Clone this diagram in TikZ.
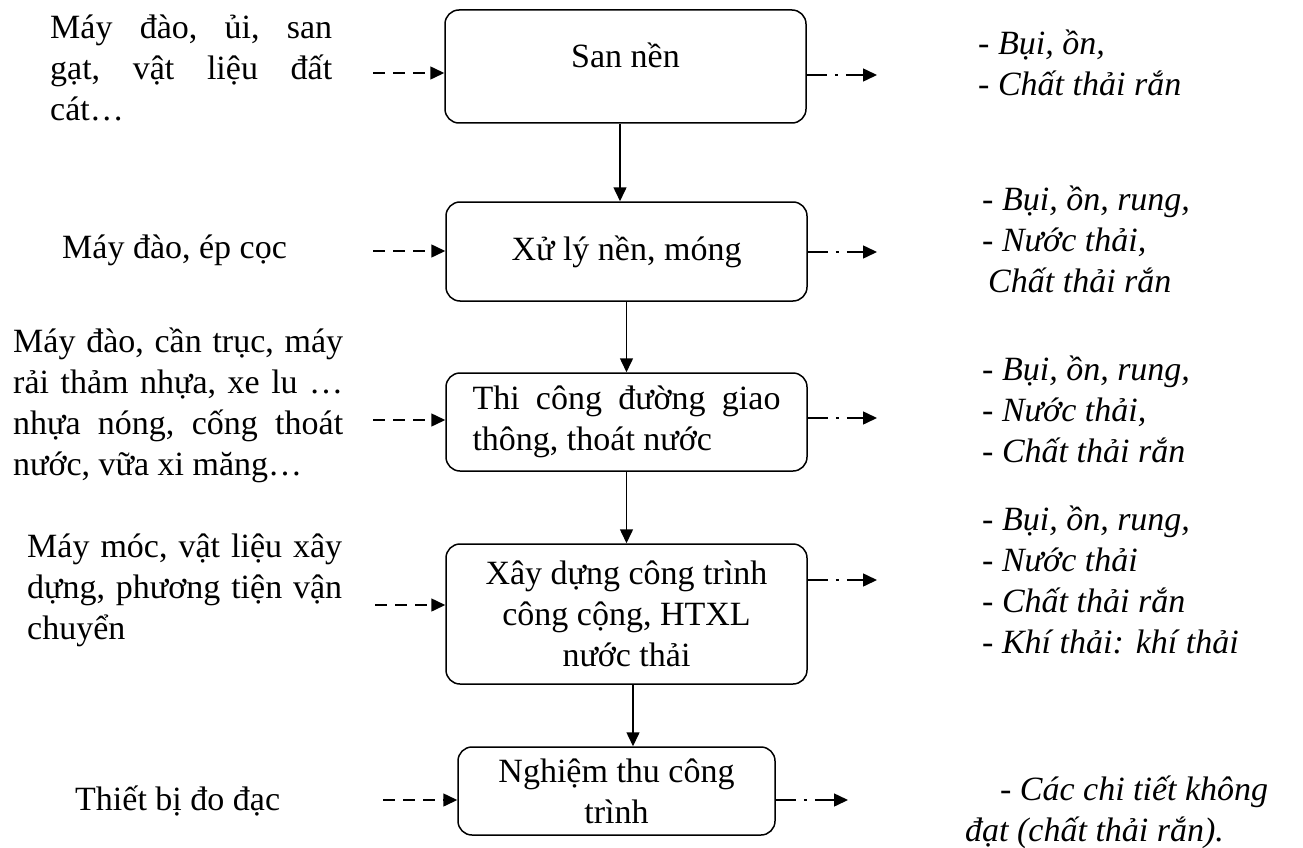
\documentclass[tikz,border=0pt]{standalone}
\usepackage{fontspec}
\setmainfont{Liberation Serif}
\usetikzlibrary{arrows.meta,positioning}
\frenchspacing

\begin{document}
\begin{tikzpicture}[
  x=1pt, y=-1pt,
  every node/.style={font=\fontsize{34}{41}\selectfont},
  stage/.style={draw, rounded corners=14pt, line width=1.5pt, align=center,
                minimum width=361pt, inner sep=6pt},
  input/.style={align=justify, text width=#1, inner sep=0pt, anchor=base west},
  output/.style={align=flush left, text width=290pt, inner sep=0pt, anchor=base west,
                 font=\fontsize{34}{41}\selectfont\itshape},
  flow/.style={-{Triangle[length=14pt,width=13pt]}, line width=1.5pt},
  feed/.style={flow, dash pattern=on 12pt off 8pt},
  waste/.style={flow, dash pattern=on 20pt off 8pt on 3pt off 8pt}
]
\useasboundingbox (0,0) rectangle (1303,848);

% stages
\node[stage, minimum height=113pt, text depth=22pt] (b1) at (625.5,66.5) {San nền};
\node[stage, minimum height=99pt] (b2) at (626.5,251.5) {Xử lý nền, móng};
\node[stage, minimum height=98pt, text width=308pt, align=justify] (b3) at (626.5,422)
  {Thi công đường giao\linebreak thông, thoát nước};
\node[stage, minimum height=140pt] (b4) at (626.5,614)
  {Xây dựng công trình\\công cộng, HTXL\\nước thải};
\node[stage, minimum height=88pt, minimum width=317pt] (b5) at (616.5,791)
  {Nghiệm thu công\\trình};

% inputs
\node[input=282pt] (in1) at (50,39) {Máy đào, ủi, san\linebreak gạt, vật liệu đất\linebreak cát…};
\node[input=260pt, align=flush left] (in2) at (62,258) {Máy đào, ép cọc};
\node[input=330pt] (in3) at (13,352)
  {Máy đào, cần trục, máy\linebreak rải thảm nhựa, xe lu …\linebreak nhựa nóng, cống thoát\linebreak nước, vữa xi măng…};
\node[input=315pt] (in4) at (27,557)
  {Máy móc, vật liệu xây\linebreak dựng, phương tiện vận\linebreak chuyển};
\node[input=260pt, align=flush left] (in5) at (75,810) {Thiết bị đo đạc};

% wastes
\node[output] (out1) at (978,55) {- Bụi, ồn,\\- Chất thải rắn};
\node[output] (out2) at (982,210) {- Bụi, ồn, rung,\\- Nước thải,\\\hspace*{6pt}Chất thải rắn};
\node[output] (out3) at (982,380) {- Bụi, ồn, rung,\\- Nước thải,\\- Chất thải rắn};
\node[output] (out4) at (982,530) {- Bụi, ồn, rung,\\- Nước thải\\- Chất thải rắn\\- Khí thải:\hspace{12pt}khí thải};
\node[input=303pt, font=\fontsize{34}{41}\selectfont\itshape] (out5) at (965,800)
  {\hspace*{35pt}- Các chi tiết không\linebreak đạt (chất thải rắn).};

% arrow ends
\coordinate (f1) at (373,73);
\coordinate (f2) at (373,251);
\coordinate (f3) at (373,420);
\coordinate (f4) at (375,605);
\coordinate (f5) at (383,800);
\coordinate (w1) at (877,75);
\coordinate (w2) at (877,252);
\coordinate (w3) at (877,418);
\coordinate (w4) at (877,580);
\coordinate (w5) at (848,800);

\draw[feed] (f1) -- (f1 -| b1.west);
\draw[feed] (f2) -- (f2 -| b2.west);
\draw[feed] (f3) -- (f3 -| b3.west);
\draw[feed] (f4) -- (f4 -| b4.west);
\draw[feed] (f5) -- (f5 -| b5.west);

\draw[waste] (w1 -| b1.east) -- (w1);
\draw[waste] (w2 -| b2.east) -- (w2);
\draw[waste] (w3 -| b3.east) -- (w3);
\draw[waste] (w4 -| b4.east) -- (w4);
\draw[waste] (w5 -| b5.east) -- (w5);

\draw[flow] ([xshift=-5.5pt]b1.south) -- ([xshift=-5.5pt]b1.south |- b2.north);
\draw[flow] (b2.south) -- (b2.south |- b3.north);
\draw[flow] (b3.south) -- (b3.south |- b4.north);
\draw[flow] ([xshift=6.5pt]b4.south) -- ([xshift=6.5pt]b4.south |- b5.north);
\end{tikzpicture}
\end{document}
